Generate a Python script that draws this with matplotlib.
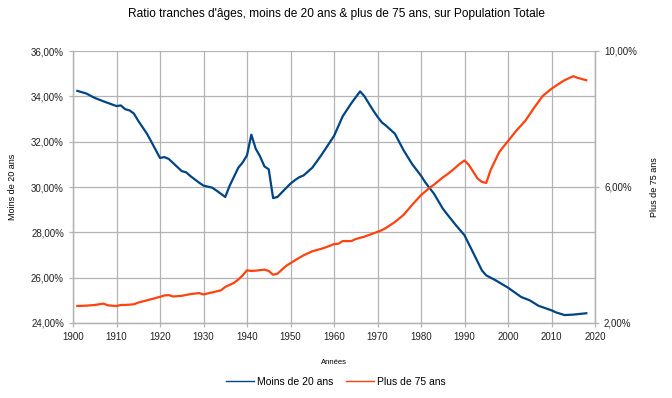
import matplotlib
matplotlib.use("Agg")
import matplotlib.pyplot as plt
from matplotlib.ticker import FuncFormatter, FixedLocator
from matplotlib.lines import Line2D

plt.rcParams['font.family'] = ['Liberation Sans', 'DejaVu Sans']

years_young = [1901, 1903, 1905, 1907, 1909, 1910, 1911, 1912, 1913, 1914, 1915, 1917, 1918,
               1920, 1921, 1922, 1923, 1925, 1926, 1927, 1929, 1930, 1932, 1933, 1935, 1936,
               1938, 1939, 1940, 1941, 1942, 1943, 1944, 1945, 1946, 1947, 1948, 1950, 1951,
               1952, 1953, 1955, 1957, 1960, 1962, 1964, 1966, 1967, 1969, 1970, 1971, 1972,
               1974, 1976, 1978, 1980, 1981, 1983, 1985, 1986, 1988, 1990, 1992, 1994, 1995,
               1997, 2000, 2003, 2005, 2007, 2010, 2011, 2013, 2015, 2018]
moins_20 = [34.24, 34.13, 33.93, 33.78, 33.64, 33.57, 33.60, 33.43, 33.38, 33.24, 32.92, 32.35, 32.00,
            31.28, 31.32, 31.24, 31.06, 30.70, 30.65, 30.48, 30.19, 30.06, 29.97, 29.84, 29.56, 30.05,
            30.85, 31.08, 31.40, 32.31, 31.69, 31.35, 30.91, 30.78, 29.51, 29.56, 29.76, 30.15, 30.30,
            30.43, 30.51, 30.85, 31.38, 32.25, 33.12, 33.70, 34.22, 34.00, 33.38, 33.10, 32.85, 32.70,
            32.35, 31.62, 31.00, 30.50, 30.20, 29.70, 29.05, 28.80, 28.32, 27.87, 27.10, 26.32, 26.10,
            25.90, 25.56, 25.15, 25.00, 24.76, 24.56, 24.47, 24.35, 24.37, 24.43]

years_old = [1901, 1903, 1905, 1907, 1908, 1910, 1911, 1912, 1914, 1915, 1918, 1920, 1921, 1922,
             1923, 1925, 1927, 1929, 1930, 1932, 1934, 1935, 1937, 1938, 1939, 1940, 1941, 1942,
             1944, 1945, 1946, 1947, 1949, 1950, 1951, 1953, 1955, 1957, 1958, 1960, 1961, 1962,
             1964, 1965, 1967, 1970, 1971, 1972, 1974, 1976, 1978, 1980, 1982, 1983, 1985, 1986,
             1987, 1989, 1990, 1991, 1993, 1994, 1995, 1996, 1998, 2000, 2002, 2004, 2006, 2008,
             2010, 2012, 2013, 2015, 2016, 2018]
plus_75 = [2.50, 2.51, 2.53, 2.57, 2.52, 2.50, 2.53, 2.53, 2.55, 2.60, 2.70, 2.77, 2.81, 2.82,
           2.78, 2.80, 2.85, 2.88, 2.84, 2.90, 2.96, 3.06, 3.18, 3.28, 3.40, 3.55, 3.53, 3.54,
           3.57, 3.53, 3.42, 3.45, 3.68, 3.76, 3.84, 3.99, 4.11, 4.18, 4.22, 4.32, 4.33, 4.41,
           4.41, 4.47, 4.54, 4.68, 4.73, 4.80, 4.97, 5.18, 5.48, 5.76, 5.98, 6.07, 6.28, 6.37,
           6.47, 6.69, 6.78, 6.65, 6.25, 6.15, 6.12, 6.50, 7.03, 7.35, 7.67, 7.95, 8.33, 8.68,
           8.89, 9.06, 9.14, 9.26, 9.21, 9.14]

left_ticks = [24, 26, 28, 30, 32, 34, 36]
right_ticks = [2, 6, 10]
x_ticks = list(range(1900, 2021, 10))

title = "Ratio tranches d'âges, moins de 20 ans & plus de 75 ans, sur Population Totale"
blue = '#004586'
orange = '#ff420e'
grid_c = '#b3b3b3'

fig = plt.figure(figsize=(6.72, 3.98), dpi=100)
ax = fig.add_axes([73/672, 1-323/398, (595-73)/672, (323-51)/398])
ax2 = ax.twinx()

ax.plot(years_young, moins_20, color=blue, lw=1.6, zorder=3)
ax2.plot(years_old, plus_75, color=orange, lw=1.6, zorder=3)

ax.set_xlim(1900, 2020)
ax.set_ylim(24, 36)
ax2.set_ylim(2, 10)
ax.xaxis.set_major_locator(FixedLocator(x_ticks))
ax.yaxis.set_major_locator(FixedLocator(left_ticks))
ax2.yaxis.set_major_locator(FixedLocator(right_ticks))
fmt = FuncFormatter(lambda v, p: ('%.2f%%' % v).replace('.', ','))
ax.yaxis.set_major_formatter(fmt)
ax2.yaxis.set_major_formatter(fmt)

ax.grid(True, color=grid_c, lw=0.9)
ax.set_axisbelow(True)
for a in (ax, ax2):
    for s in a.spines.values():
        s.set_color(grid_c)
        s.set_linewidth(0.9)
    a.tick_params(colors=grid_c, labelcolor='#222222', labelsize=7, length=3, width=0.9)
ax.spines['top'].set_visible(False)
ax2.spines['top'].set_visible(False)

ax.set_ylabel('Moins de 20 ans', fontsize=6.5)
ax.yaxis.set_label_coords((17 - 73) / 522, 0.5)
ax2.set_ylabel('Plus de 75 ans', fontsize=6.5)
ax2.yaxis.set_label_coords((650 - 73) / 522, 0.5)
ax.set_xlabel('Années', fontsize=5.5, labelpad=12)
fig.text(0.5, 1-14/398, title, ha='center', va='center', fontsize=8.6)

handles = [Line2D([], [], color=blue, lw=1.0), Line2D([], [], color=orange, lw=1.0)]
fig.legend(handles=handles, labels=['Moins de 20 ans', 'Plus de 75 ans'], loc='center',
           bbox_to_anchor=(0.5, 1-382/398), ncol=2, frameon=False, fontsize=7.5,
           handlelength=2.7, handletextpad=0.3, columnspacing=1.2)

fig.savefig('out.png', dpi=100, facecolor='white')
